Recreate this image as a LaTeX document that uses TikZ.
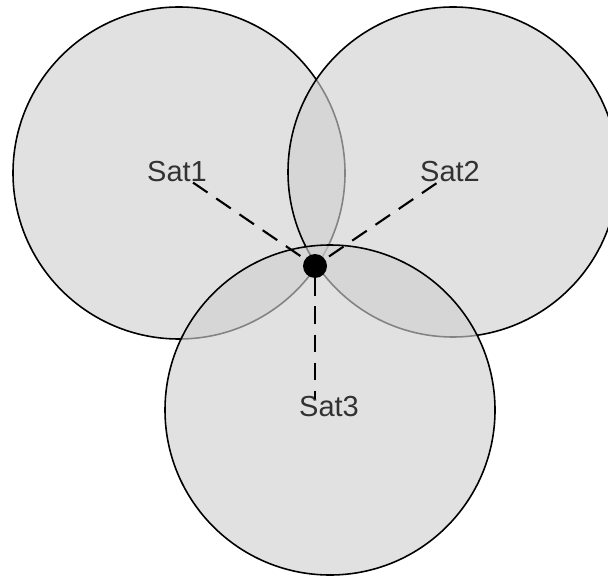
\documentclass[tikz,border=0pt]{standalone}
\usepackage{fontspec}
\setmainfont{Liberation Sans}
\definecolor{diskgray}{RGB}{208,208,208}
\definecolor{labelgray}{RGB}{50,50,50}
\tikzset{
  disk/.style={draw=black,line width=0.9pt,fill=diskgray,fill opacity=0.63},
  satlabel/.style={inner sep=0pt,text=labelgray,font=\fontsize{16.5}{20}\selectfont},
  rangeline/.style={line width=1.2pt,dash pattern=on 10pt off 6pt},
}
\begin{document}
\begin{tikzpicture}
\useasboundingbox (0,0) rectangle (12.16,11.6);
\clip (0,0) rectangle (12.16,11.6);
% coverage of the three satellites
\coordinate (c1) at (3.58,8.14);
\coordinate (c2) at (9.06,8.16);
\coordinate (c3) at (6.6,3.4);
\draw [disk] (c1) circle (3.32);
\draw [disk] (c2) circle (3.3);
\draw [disk] (c3) circle (3.3);
% labels and receiver
\node [satlabel] (sat1) at (3.54,8.16) {Sat1};
\node [satlabel] (sat2) at (9.0,8.16) {Sat2};
\node [satlabel] (sat3) at (6.58,3.46) {Sat3};
\node [circle,fill=black,inner sep=0pt,minimum size=0.48cm] (rx) at (6.3,6.28) {};
\coordinate (foot) at (6.3,3.62);
\draw [rangeline,shorten <=0.34cm] (c1) -- (rx);
\draw [rangeline,shorten <=0.4cm] (c2) -- (rx);
\draw [rangeline] (rx) -- (foot);
\end{tikzpicture}
\end{document}
